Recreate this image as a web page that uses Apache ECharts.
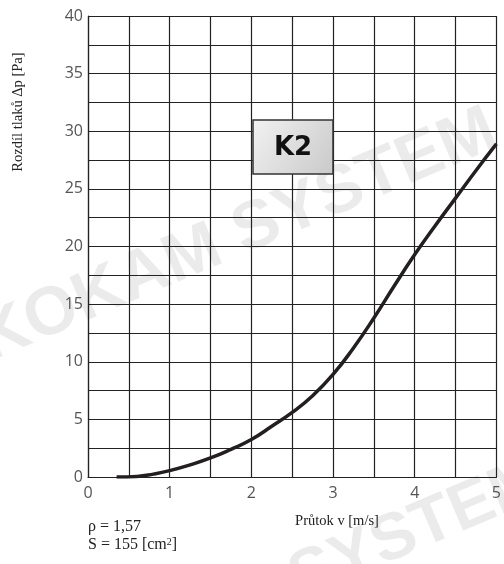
<!DOCTYPE html>
<html>
<head>
<meta charset="utf-8">
<script src="https://cdn.jsdelivr.net/npm/echarts@6/dist/echarts.min.js"></script>
<style>
  html, body { margin: 0; padding: 0; background: #fff; }
  #main { width: 504px; height: 564px; }
</style>
</head>
<body>
<div id="main"></div>
<script>
/* K2 - tlaková ztráta */
var flowV = [0.35, 0.6, 0.8, 1.0, 1.25, 1.5, 1.75, 2.0, 2.25, 2.5, 2.75, 3.0, 3.25, 3.5, 3.75, 4.0, 4.25, 4.5, 4.75, 5.0];
var pressureDp = [0.0, 0.05, 0.25, 0.55, 1.05, 1.65, 2.4, 3.25, 4.4, 5.6, 7.05, 8.9, 11.2, 13.8, 16.6, 19.3, 21.8, 24.2, 26.6, 28.9];
var xTicks = [0, 1, 2, 3, 4, 5];
var yTicks = [0, 5, 10, 15, 20, 25, 30, 35, 40];

var seriesData = [];
for (var i = 0; i < flowV.length; i++) {
	seriesData.push([flowV[i], pressureDp[i]]);
}

var myChart = echarts.init(document.getElementById('main'));
var option = {
	animation: false,
	grid: { left: 88, right: 4, top: 16, bottom: 87 },
	xAxis: {
		type: 'value',
		min: 0, max: 5, interval: 0.5,
		axisLine: { show: true, lineStyle: { color: '#222', width: 1.2 } },
		axisTick: { show: false },
		splitLine: { show: true, lineStyle: { color: '#222', width: 1.2 } },
		axisLabel: {
			margin: 8,
			fontFamily: 'Open Sans', fontSize: 16, color: '#555',
			formatter: function (v) { return xTicks.indexOf(v) >= 0 ? String(v) : ''; }
		}
	},
	yAxis: {
		type: 'value',
		min: 0, max: 40, interval: 2.5,
		axisLine: { show: true, lineStyle: { color: '#222', width: 1.2 } },
		axisTick: { show: false },
		splitLine: { show: true, lineStyle: { color: '#222', width: 1.2 } },
		axisLabel: {
			margin: 5,
			fontFamily: 'Open Sans', fontSize: 16, color: '#555',
			formatter: function (v) { return yTicks.indexOf(v) >= 0 ? String(v) : ''; }
		}
	},
	graphic: [
		{
			type: 'text', z: -10,
			position: [238, 236], rotation: 0.4,
			style: { text: 'KOKAM SYSTEM', font: 'bold 68px "Liberation Sans"', fill: 'rgba(0,0,0,0.08)', align: 'center', verticalAlign: 'middle' }
		},
		{
			type: 'text', z: -10,
			position: [418, 530], rotation: 0.4,
			style: { text: 'SYSTEM', font: 'bold 66px "Liberation Sans"', fill: 'rgba(0,0,0,0.08)', align: 'center', verticalAlign: 'middle' }
		},
		{
			type: 'rect', z: 10,
			shape: { x: 253, y: 120, width: 80, height: 54 },
			style: {
				fill: new echarts.graphic.LinearGradient(0, 0, 1, 1, [
					{ offset: 0, color: '#f2f2f2' },
					{ offset: 1, color: '#c9c9c9' }
				]),
				stroke: '#333', lineWidth: 1.5
			}
		},
		{
			type: 'text', z: 11,
			position: [293, 148],
			style: { text: 'K2', font: 'bold 26px "DejaVu Sans"', fill: '#111', align: 'center', verticalAlign: 'middle' }
		},
		{
			type: 'text',
			position: [18, 112], rotation: Math.PI / 2,
			style: { text: 'Rozdíl tlaků Δp [Pa]', font: '14.5px "Liberation Serif"', fill: '#222', align: 'center', verticalAlign: 'middle' }
		},
		{
			type: 'text',
			position: [337, 521],
			style: { text: 'Průtok v [m/s]', font: '14.5px "Liberation Serif"', fill: '#222', align: 'center', verticalAlign: 'middle' }
		},
		{
			type: 'text',
			position: [88, 527],
			style: { text: 'ρ = 1,57', font: '16px "Liberation Serif"', fill: '#222', align: 'left', verticalAlign: 'middle' }
		},
		{
			type: 'text',
			position: [88, 545],
			style: {
				text: '{a|S = 155 [cm}{b|2}{a|]}',
				rich: {
					a: { font: '16px "Liberation Serif"', fill: '#222' },
					b: { font: '10px "Liberation Serif"', fill: '#222', verticalAlign: 'top', padding: [0, 0, 6, 0] }
				},
				align: 'left', verticalAlign: 'middle'
			}
		}
	],
	series: [
		{
			type: 'line',
			data: seriesData,
			smooth: true,
			showSymbol: false,
			lineStyle: { color: '#231f20', width: 3.5 }
		}
	]
};
myChart.setOption(option);
</script>
</body>
</html>
